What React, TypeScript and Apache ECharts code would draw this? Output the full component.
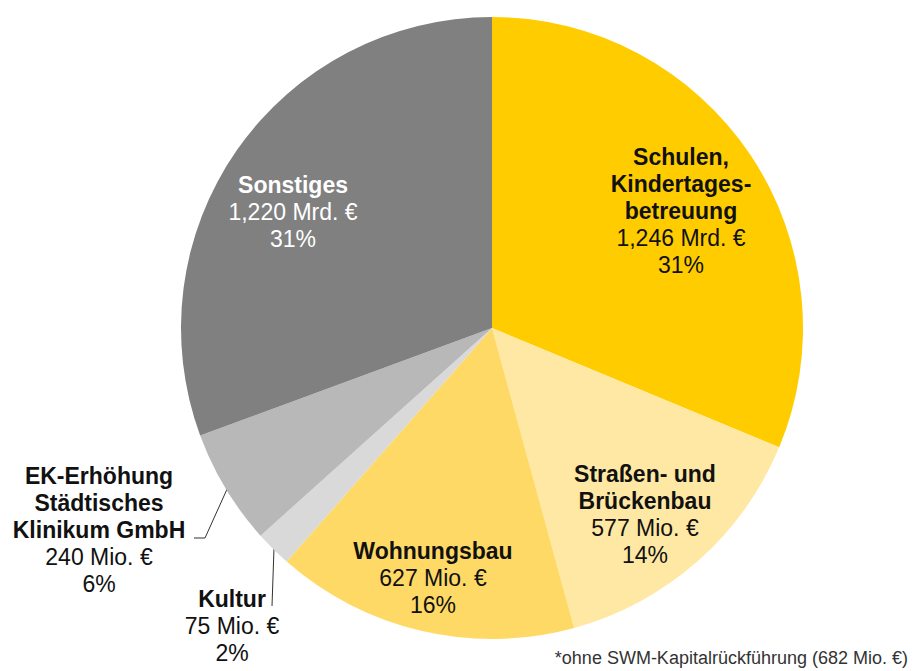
import React, { useEffect, useRef } from "react";
import * as echarts from "echarts";

const categories = [
  "Schulen,\nKindertages-\nbetreuung",
  "Straßen- und\nBrückenbau",
  "Wohnungsbau",
  "Kultur",
  "EK-Erhöhung\nStädtisches\nKlinikum GmbH",
  "Sonstiges",
];
const valuesMio = [1246, 577, 627, 75, 240, 1220];
const colors = ["#FFCC00", "#FFE8A3", "#FFD966", "#D9D9D9", "#B8B8B8", "#808080"];
const labelColors = ["#111111", "#111111", "#111111", "#111111", "#111111", "#FFFFFF"];
const footnote = "*ohne SWM-Kapitalrückführung (682 Mio. €)";

// label anchor positions (block centres) and leader lines
const labelPos: [number, number][] = [
  [681, 211],
  [645, 514],
  [433, 578],
  [232, 626],
  [99, 530],
  [293, 212],
];
const leaderLines: (number[][] | null)[] = [
  null,
  null,
  null,
  [[274, 548], [272, 606]],
  [[228, 487], [205, 538], [194, 538]],
  null,
];

function fmtValue(v: number): string {
  if (v >= 1000) return (v / 1000).toFixed(3).replace(".", ",") + " Mrd. €";
  return v + " Mio. €";
}

export default function App() {
  const ref = useRef<HTMLDivElement>(null);
  useEffect(() => {
    if (!ref.current) return;
    const chart = echarts.init(ref.current, null, { renderer: "svg" });
    const font = "'Liberation Sans', Arial, sans-serif";
    chart.setOption({
      animation: false,
      backgroundColor: "#ffffff",
      graphic: [
        {
          type: "text",
          right: 12,
          top: 649,
          style: {
            text: footnote,
            fill: "#333333",
            font: "18px " + font,
          },
        },
      ],
      series: [
        {
          type: "pie",
          center: [492, 328],
          radius: [0, 311],
          startAngle: 90,
          clockwise: true,
          avoidLabelOverlap: false,
          emphasis: { disabled: true },
          itemStyle: { borderWidth: 0 },
          data: categories.map((name, i) => ({
            name,
            value: valuesMio[i],
            itemStyle: { color: colors[i] },
            label: {
              show: true,
              position: leaderLines[i] ? "outside" : "inside",
              color: labelColors[i],
              rich: {
                b: {
                  fontFamily: font,
                  fontWeight: "bold",
                  fontSize: 23,
                  lineHeight: 27,
                  color: labelColors[i],
                  align: "center",
                },
                v: {
                  fontFamily: font,
                  fontSize: 23,
                  lineHeight: 27,
                  color: labelColors[i],
                  align: "center",
                },
              },
            },
            labelLine: {
              show: !!leaderLines[i],
              lineStyle: { color: "#333333", width: 1 },
            },
          })),
          label: {
            formatter: (p: any) =>
              "{b|" + p.name + "}\n{v|" + fmtValue(p.value) + "}\n{v|" + Math.round(p.percent) + "%}",
          },
          labelLayout: (p: any) => {
            const i = p.dataIndex;
            const res: any = {
              x: labelPos[i][0],
              y: labelPos[i][1],
              align: "center",
              verticalAlign: "middle",
            };
            if (leaderLines[i]) res.labelLinePoints = leaderLines[i];
            return res;
          },
        },
      ],
    });
    return () => chart.dispose();
  }, []);
  return (
    <div
      ref={ref}
      style={{ position: "absolute", left: 0, top: 0, width: 920, height: 671 }}
    />
  );
}
